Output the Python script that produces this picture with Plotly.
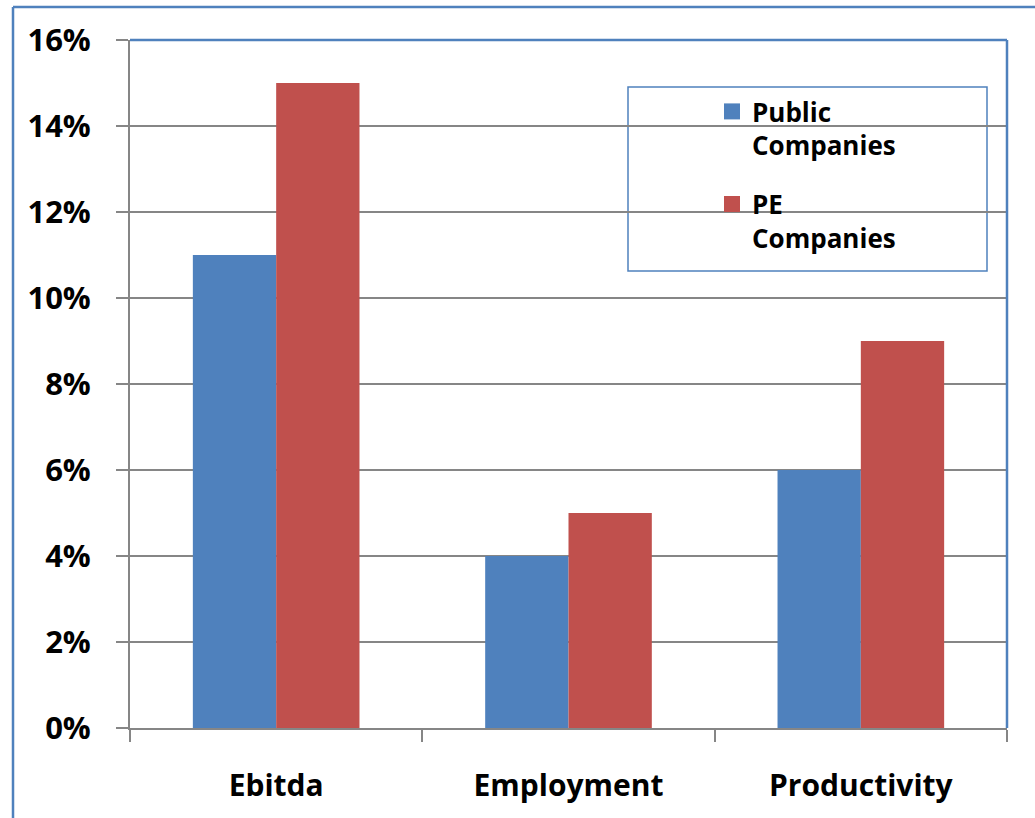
import plotly.graph_objects as go

categories = ["Ebitda", "Employment", "Productivity"]
public_vals = [0.11, 0.04, 0.06]
pe_vals = [0.15, 0.05, 0.09]
series_names = ["Public<br>Companies", "PE<br>Companies"]
tick_vals = [0, 0.02, 0.04, 0.06, 0.08, 0.10, 0.12, 0.14, 0.16]

BLUE = "#4F81BD"
RED = "#C0504D"
GRAY = "#868686"
FONT = "Open Sans"

fig = go.Figure()
fig.add_trace(go.Bar(x=categories, y=public_vals, marker=dict(color=BLUE, line=dict(width=0)), showlegend=False))
fig.add_trace(go.Bar(x=categories, y=pe_vals, marker=dict(color=RED, line=dict(width=0)), showlegend=False))
for i, (name, col) in enumerate(zip(series_names, [BLUE, RED])):
    fig.add_trace(go.Scatter(x=[None], y=[None], mode="markers", name=name, legendgroup=f"g{i}",
                             marker=dict(symbol="square", size=17, color=col)))

W, H = 1035, 818
L, R, T, B = 130, 28, 40, 90
pw, ph = W - L - R, H - T - B

def px(x):
    return (x - L) / pw

def py(y):
    return (H - B - y) / ph

fig.update_layout(
    width=W, height=H,
    margin=dict(l=L, r=R, t=T, b=B, pad=0),
    paper_bgcolor="white", plot_bgcolor="white",
    barmode="group", bargap=0.43, bargroupgap=0,
    font=dict(family=FONT, color="black", weight="bold"),
    legend=dict(x=px(712), y=py(88), xanchor="left", yanchor="top",
                bgcolor="rgba(0,0,0,0)", borderwidth=0, valign="top",
                font=dict(family=FONT, size=26, color="black", weight="bold"),
                tracegroupgap=22, itemwidth=30),
    xaxis=dict(showline=True, linecolor=GRAY, linewidth=2, showgrid=False,
               ticks="outside", tickson="boundaries", ticklen=12, tickcolor=GRAY, tickwidth=2,
               tickfont=dict(family=FONT, size=30, color="black", weight="bold"), ticklabelstandoff=30),
    yaxis=dict(range=[0, 0.16], tickvals=tick_vals, tickformat=".0%",
               showline=True, linecolor=GRAY, linewidth=2,
               showgrid=True, gridcolor=GRAY, gridwidth=1.5, zeroline=False,
               ticks="outside", ticklen=12, tickcolor=GRAY, tickwidth=2,
               tickfont=dict(family=FONT, size=31, color="black", weight="bold"), ticklabelstandoff=19),
    shapes=[
        dict(type="line", xref="paper", yref="paper", x0=0, x1=1, y0=1, y1=1, line=dict(color=BLUE, width=2.5)),
        dict(type="line", xref="paper", yref="paper", x0=1, x1=1, y0=0, y1=1, line=dict(color=BLUE, width=2.5)),
        dict(type="line", xref="paper", yref="paper", x0=px(13), x1=px(1040), y0=py(7), y1=py(7), line=dict(color=BLUE, width=2.5)),
        dict(type="line", xref="paper", yref="paper", x0=px(13), x1=px(13), y0=py(7), y1=py(830), line=dict(color=BLUE, width=2.5)),
        dict(type="rect", xref="paper", yref="paper", x0=px(628), x1=px(987), y0=py(87), y1=py(271),
             line=dict(color=BLUE, width=1.5), fillcolor="white", layer="below"),
    ],
)

fig.write_html("out.html", config={"displayModeBar": False},
               post_script="document.body.style.margin='0';")
